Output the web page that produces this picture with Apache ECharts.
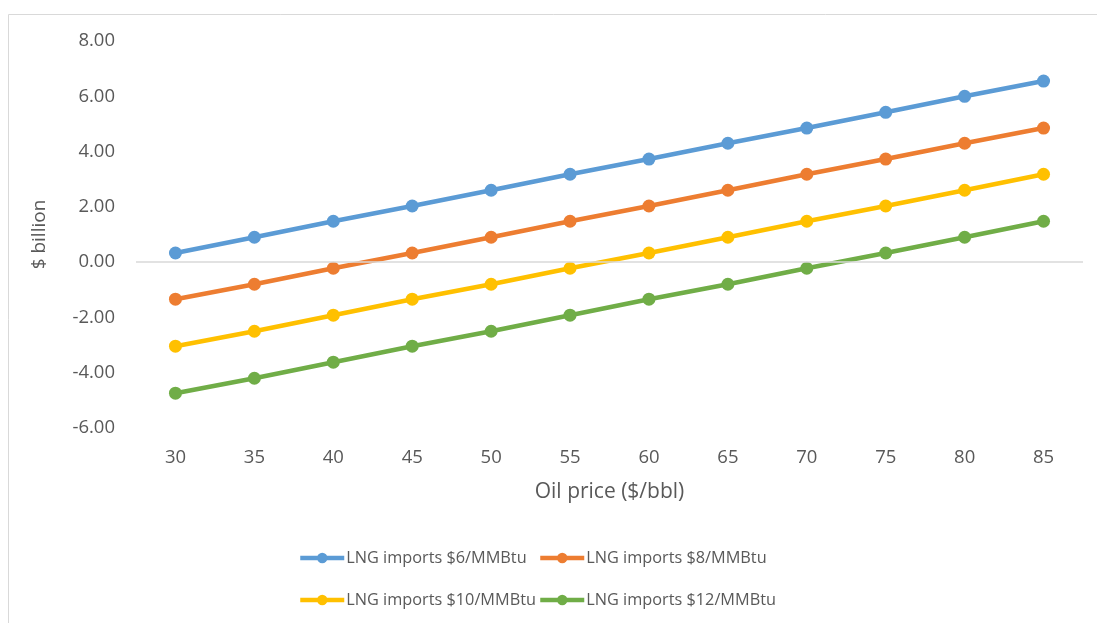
<!DOCTYPE html>
<html><head><meta charset="utf-8">
<script src="https://cdn.jsdelivr.net/npm/echarts@6/dist/echarts.min.js"></script>
<style>html,body{margin:0;padding:0;background:#fff}#c{width:1097px;height:623px}</style>
</head><body><div id="c"></div>
<script>
const categories = ['30','35','40','45','50','55','60','65','70','75','80','85'];
const seriesNames = ['LNG imports $6/MMBtu','LNG imports $8/MMBtu','LNG imports $10/MMBtu','LNG imports $12/MMBtu'];
const lng6  = [0.33, 0.90, 1.48, 2.03, 2.60, 3.18, 3.73, 4.30, 4.85, 5.42, 6.00, 6.55];
const lng8  = [-1.34, -0.80, -0.22, 0.33, 0.90, 1.48, 2.03, 2.60, 3.18, 3.73, 4.30, 4.85];
const lng10 = [-3.04, -2.50, -1.92, -1.34, -0.80, -0.22, 0.33, 0.90, 1.48, 2.03, 2.60, 3.18];
const lng12 = [-4.74, -4.20, -3.62, -3.04, -2.50, -1.92, -1.34, -0.80, -0.22, 0.33, 0.90, 1.48];
const colors = ['#5B9BD5','#ED7D31','#FFC000','#70AD47'];
const FONT = 'Open Sans';
const txt = '#595959';

const chart = echarts.init(document.getElementById('c'));
const allData = [lng6, lng8, lng10, lng12];
function legendAt(name, left, top){
  return {data:[name], left:left, top:top, itemWidth:44, itemHeight:13, itemGap:0,
    lineStyle:{width:4.5}, itemStyle:{borderWidth:0},
    textStyle:{fontFamily:FONT, fontSize:16.3, color:txt, padding:[0,0,0,-3]}, padding:0};
}
chart.setOption({
  animation:false,
  color: colors,
  graphic:[{type:'rect', shape:{x:8.5,y:14.5,width:1100,height:620}, style:{fill:'none', stroke:'#d9d9d9', lineWidth:1}, silent:true}],
  grid:{left:136, right:14, top:41, bottom:623-428},
  legend:[
    legendAt(seriesNames[0], 298, 550),
    legendAt(seriesNames[1], 538, 550),
    legendAt(seriesNames[2], 298, 592),
    legendAt(seriesNames[3], 538, 592)
  ],
  xAxis:{type:'category', data:categories, boundaryGap:true,
    name:'Oil price ($/bbl)', nameLocation:'middle', nameGap:54,
    nameTextStyle:{fontFamily:FONT, fontSize:21, color:txt},
    axisLine:{show:false}, axisTick:{show:false},
    axisLabel:{fontFamily:FONT, fontSize:18.5, color:txt, margin:20}},
  yAxis:{type:'value', min:-6, max:8, interval:2,
    name:'$ billion', nameLocation:'middle', nameGap:87, nameRotate:90,
    nameTextStyle:{fontFamily:FONT, fontSize:19, color:txt},
    axisLine:{show:false}, axisTick:{show:false},
    axisLabel:{fontFamily:FONT, fontSize:18.5, color:txt, margin:21, formatter:v=>v.toFixed(2)},
    splitLine:{show:false}},
  series: allData.map((d,i)=>({
    name:seriesNames[i], type:'line', data:d, symbol:'circle', symbolSize:13,
    lineStyle:{width:4.5, color:colors[i]}, itemStyle:{color:colors[i]},
    markLine: i===0 ? {silent:true, symbol:'none', label:{show:false}, lineStyle:{color:'#d9d9d9', width:1.5, type:'solid'}, data:[{yAxis:0}]} : undefined
  }))
});
</script></body></html>
